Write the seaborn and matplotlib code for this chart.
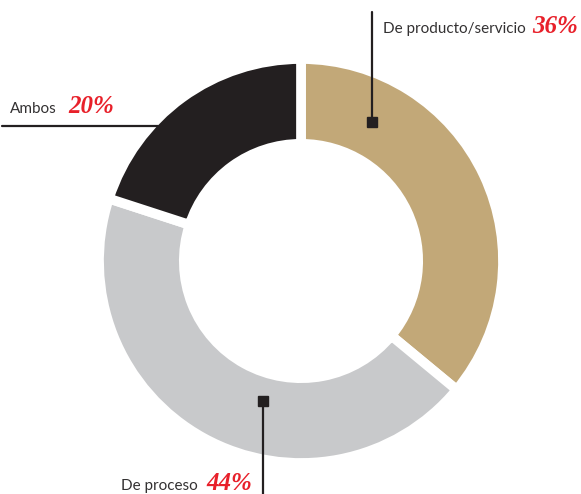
import matplotlib
matplotlib.use("Agg")
import matplotlib.pyplot as plt
import seaborn as sns

sns.set_theme(style="white")
plt.rcParams['font.family'] = ['Lato', 'DejaVu Sans']

# data
categories = ['De producto/servicio', 'De proceso', 'Ambos']
shares = [36, 44, 20]
colors = ['#C2A878', '#C8C9CB', '#231F20']

W, H = 581, 494
fig = plt.figure(figsize=(W / 100, H / 100), dpi=100)
ax = fig.add_axes([0, 0, 1, 1])

def py(y):
    # pixel row -> data y
    return H - y

cx, cy, r = 301, py(261), 202
wedges, _ = ax.pie(shares, colors=colors, startangle=90, counterclock=False,
                   center=(cx, cy), radius=r, frame=True,
                   wedgeprops=dict(width=r * 0.42, edgecolor='white', linewidth=7))
for w in wedges:
    w.set_zorder(2)
ax.set_xlim(0, W)
ax.set_ylim(0, H)
ax.set_aspect('equal')
ax.axis('off')

ink = '#231F20'
red = '#E8202A'

# leader lines
ax.plot([372, 372], [py(12), py(122)], color=ink, lw=1.6, zorder=3)
ax.plot([372], [py(122)], marker='s', ms=7.5, color=ink, zorder=4)
ax.plot([263, 263], [py(401), py(494)], color=ink, lw=1.6, zorder=3)
ax.plot([263], [py(401)], marker='s', ms=7.5, color=ink, zorder=4)
ax.plot([2, 158], [py(126), py(126)], color=ink, lw=1.6, zorder=3)

# labels
label_pos = [(383, 33, 532), (121, 490, 206), (10, 113, 68)]
for name, val, (x, y, xp) in zip(categories, shares, label_pos):
    ax.text(x, py(y), name, fontsize=11, color='#333132',
            ha='left', va='baseline')
    ax.text(xp, py(y), f'{val}%', fontsize=18, fontweight='bold', fontstyle='italic',
            family=['Liberation Serif', 'DejaVu Serif'], color=red,
            ha='left', va='baseline')

fig.savefig('out.png', dpi=100, facecolor='white')
